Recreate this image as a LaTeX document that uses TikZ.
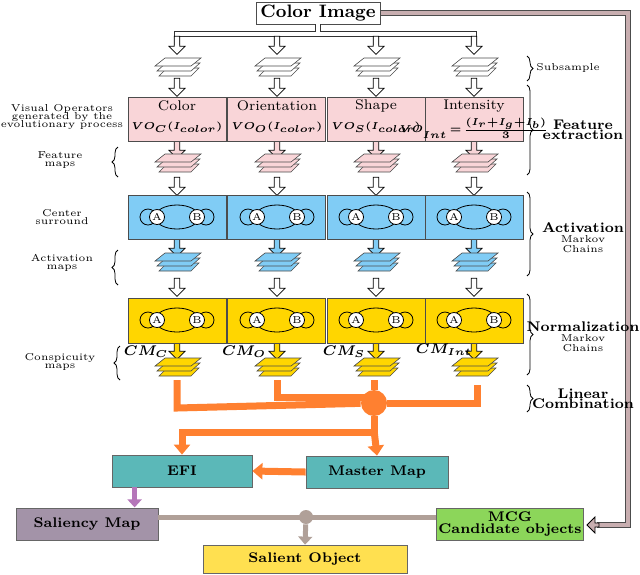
\documentclass[tikz,border=0pt]{standalone}
\usepackage{bm}
\usetikzlibrary{shapes.arrows,arrows.meta,decorations.pathreplacing,calc}
\definecolor{fpink}{HTML}{F9D5D8}
\definecolor{fblue}{HTML}{80CCF5}
\definecolor{fyel}{HTML}{FFD600}
\definecolor{forange}{HTML}{FF8030}
\definecolor{fteal}{HTML}{5BB8B8}
\definecolor{fpurp}{HTML}{A393A8}
\definecolor{fgreen}{HTML}{8CD65A}
\definecolor{fsal}{HTML}{FFE050}
\definecolor{fgray}{HTML}{B0A098}
\definecolor{fpipe}{HTML}{C8AEB0}
\tikzset{
  blk/.style={draw=black!70, line width=0.5pt},
  harrow/.style={single arrow, draw, fill=#1, shape border rotate=270,
    minimum height=9pt, minimum width=8pt, single arrow head extend=2pt,
    single arrow tip angle=90, inner sep=0.8pt},
  lbl/.style={font=\tiny, align=center, inner sep=0},
  rlbl/.style={font=\scriptsize, align=center, inner sep=0},
  brc/.style={decorate, decoration={brace, amplitude=3pt}, line width=0.4pt},
  orl/.style={draw=forange, line width=3.5pt},
  box/.style={draw=black!60, font=\scriptsize\bfseries, align=center},
  st/.style={circle, draw, fill=white, inner sep=0pt, minimum size=7.5pt, font=\tiny}
}
% stacked maps: x centre, y top, colour
\newcommand\plstack[3]{%
  \foreach \k in {2,1,0}{%
    \filldraw[fill=#3, draw=black!70, line width=0.3pt]
      ($(#1,#2)+(-22+\k*2,9+\k*5)$) -- ++(36-\k*2,0) -- ++(10-\k,-8) -- ++(-36+\k*2,0) -- cycle;}}
% Markov chain graph: x centre, y centre
\newcommand\mchain[2]{%
  \draw[line width=0.4pt] (#1,#2) ellipse (22 and 12);
  \draw[line width=0.4pt] (#1-29,#2) circle (8);
  \draw[line width=0.4pt] (#1+29,#2) circle (8);
  \node[st] at (#1-20,#2) {A};
  \node[st] at (#1+20,#2) {B};}
\begin{document}
\begin{tikzpicture}[x=0.5pt,y=-0.5pt]
\useasboundingbox (0,0) rectangle (640,574);

% source image and feedback pipe
\node[draw, blk, font=\small\bfseries, minimum width=62pt, minimum height=11pt, inner sep=1pt] (img) at (318,13) {Color Image};
\draw[black!70, line width=3pt] (img.east) -- (628,13) -- (628,525) -- (597,525);
\draw[fpipe, line width=1.8pt] (img.east) -- (628,13) -- (628,525) -- (596,525);
\node[single arrow, draw, fill=fpipe, shape border rotate=180, minimum height=6pt, minimum width=8pt,
  single arrow head extend=2pt, inner sep=0.5pt] (fb) at (594,525) {};

% distribution pipe
\draw[black!80, line width=3pt] (177,45) -- (177,34) -- (474,34) -- (474,45) (318,24) -- (318,34) (277,34) -- (277,45) (376,34) -- (376,45);
\draw[white, line width=1.8pt] (177,46) -- (177,34) -- (474,34) -- (474,46) (318,23) -- (318,34) (277,34) -- (277,46) (376,34) -- (376,46);

\foreach \x in {177,277,376,474}{
  \node[harrow=white] at (\x,44) {};
  \plstack{\x}{57}{white}
  \node[harrow=white] at (\x,86) {};
  \node[harrow=fpink] at (\x,148) {};
  \plstack{\x}{153}{fpink}
  \node[harrow=white] at (\x,185) {};
  \node[harrow=fblue] at (\x,246) {};
  \plstack{\x}{252}{fblue}
  \node[harrow=white] at (\x,286) {};
  \node[harrow=fyel] at (\x,349) {};
  \plstack{\x}{357}{fyel}
}

% rows of boxes
\foreach \x in {128,227,327,425}{
  \filldraw[fill=fpink, blk] (\x,97) rectangle ++(98,44);
  \filldraw[fill=fblue, blk] (\x,195) rectangle ++(98,44);
  \filldraw[fill=fyel, blk] (\x,298) rectangle ++(98,45);
}
\foreach \x in {177,277,376,474}{
  \mchain{\x}{217}
  \mchain{\x}{320}
}
\node[font=\scriptsize] at (177,106) {Color};
\node[font=\scriptsize] at (277,106) {Orientation};
\node[font=\scriptsize] at (376,106) {Shape};
\node[font=\scriptsize] at (474,106) {Intensity};
\node[font=\tiny] at (177,127) {$\bm{VO_C(I_{color})}$};
\node[font=\tiny] at (277,127) {$\bm{VO_O(I_{color})}$};
\node[font=\tiny] at (376,127) {$\bm{VO_S(I_{color})}$};
\node[font=\tiny] at (474,128) {$\bm{VO_{_{Int}}\!=\!\frac{(I_r+I_g+I_b)}{3}}$};

% conspicuity labels
\node[font=\scriptsize] at (146,352) {$\bm{CM_C}$};
\node[font=\scriptsize] at (244,352) {$\bm{CM_O}$};
\node[font=\scriptsize] at (344,352) {$\bm{CM_S}$};
\node[font=\scriptsize] at (444,350) {$\bm{CM_{Int}}$};

% linear combination
\node[circle, fill=forange, minimum size=13pt, inner sep=0] (sum) at (374,403) {};
\draw[orl] (177,380) -- (177,408) -- (sum);
\draw[orl] (277,380) -- (277,397) -- (374,397);
\draw[orl] (374,380) -- (sum);
\draw[orl] (477,385) -- (477,403) -- (sum);

% bottom boxes
\node[box, fill=fteal, minimum width=70pt, minimum height=16pt] (efi) at (182,471) {EFI};
\node[box, fill=fteal, minimum width=71pt, minimum height=16pt] (mm) at (377,472) {Master Map};
\node[box, fill=fpurp, minimum width=71pt, minimum height=16pt] (sal) at (87,524) {Saliency Map};
\node[box, fill=fgreen, minimum width=70pt, minimum height=16pt, inner sep=1pt] (mcg) at (510,524) {MCG\\[-2pt]Candidate objects};
\node[box, fill=fsal, minimum width=102pt, minimum height=14pt] (so) at (305,559) {Salient Object};

\draw[orl, -{Triangle[length=5pt,width=8pt]}] (sum) -- (374,432) -| (efi.north);
\draw[orl, -{Triangle[length=5pt,width=8pt]}] (374,430) -- (mm.north);
\draw[orl, -{Triangle[length=5pt,width=8pt]}] (mm.west) -- (efi.east);
\draw[draw=fpurp!80!magenta, line width=2.5pt, -{Triangle[length=4pt,width=7pt]}] ($(efi.south west)+(23,0)$) -- ($(efi.south west)+(23,20)$);
\node[circle, fill=fgray, minimum size=7pt, inner sep=0] (jn) at (306,517) {};
\draw[fgray, line width=2.5pt] (sal.east |- jn) -- (mcg.west |- jn);
\draw[fgray, line width=2.5pt, -{Triangle[length=4pt,width=7pt]}] (jn) -- (so.north);

% left labels
\node[lbl] at (62,117) {Visual Operators\\[-2pt]generated by the\\[-2pt]evolutionary process};
\node[lbl] at (60,160) {Feature\\[-2pt]maps};
\node[lbl] at (62,217) {Center\\[-2pt]surround};
\node[lbl] at (62,263) {Activation\\[-2pt]maps};
\node[lbl] at (60,362) {Conspicuity\\[-2pt]maps};
\draw[brc] (118,177) -- (118,147);
\draw[brc] (118,285) -- (118,250);
\draw[brc] (120,380) -- (120,346);

% right labels
\draw[brc] (527,56) -- (527,81);
\draw[brc] (527,85) -- (527,175);
\draw[brc] (527,192) -- (527,276);
\draw[brc] (527,294) -- (527,375);
\draw[brc] (527,385) -- (527,412);
\node[rlbl, anchor=west, font=\tiny] at (536,68) {Subsample};
\node[rlbl] at (583,130) {\textbf{Feature}\\[-3pt]\textbf{extraction}};
\node[rlbl] at (583,238) {\textbf{Activation}\\[-3pt]{\tiny Markov}\\[-3pt]{\tiny Chains}};
\node[rlbl] at (583,337) {\textbf{Normalization}\\[-3pt]{\tiny Markov}\\[-3pt]{\tiny Chains}};
\node[rlbl] at (583,399) {\textbf{Linear}\\[-3pt]\textbf{Combination}};
\end{tikzpicture}
\end{document}
